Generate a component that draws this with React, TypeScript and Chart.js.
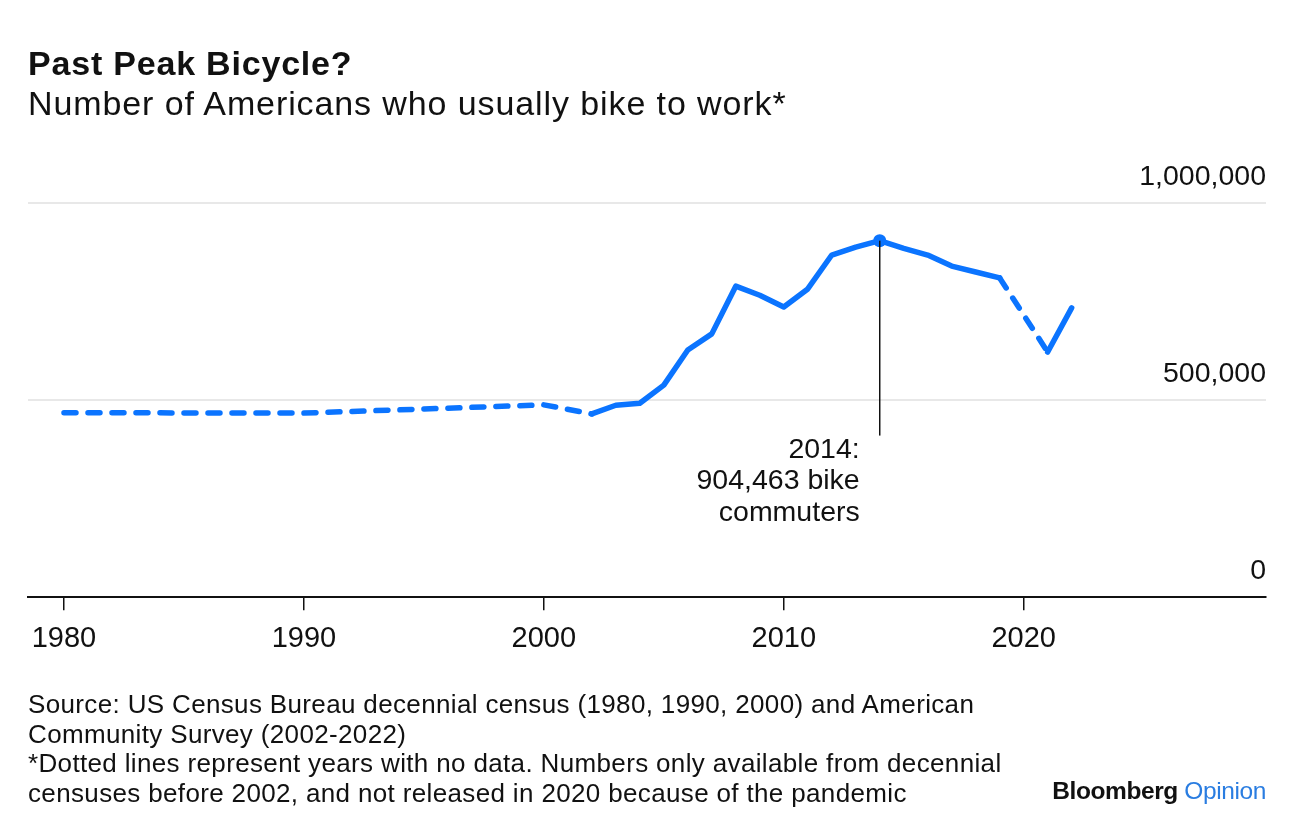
import React, { useEffect, useRef } from "react";
import { Chart, registerables } from "chart.js";

Chart.register(...registerables);

const years = [1980, 1990, 2000, 2002, 2003, 2004, 2005, 2006, 2007, 2008, 2009, 2010, 2011, 2012, 2013, 2014, 2015, 2016, 2017, 2018, 2019, 2021, 2022];
const commuters = [468000, 467000, 488000, 465000, 487000, 492000, 538000, 627000, 668000, 789000, 766000, 736000, 782000, 868000, 888000, 904463, 885000, 868000, 840000, 825000, 810000, 622000, 734000];
const xTicks = [1980, 1990, 2000, 2010, 2020];
const yTicks = [0, 500000, 1000000];
const peakYear = 2014;
const annotationLines = ["2014:", "904,463 bike", "commuters"];
const annotationEndValue = 410000;

const FONT = '"Liberation Sans", Arial, sans-serif';
const BLUE = "#0b74ff";

const annotationPlugin = {
  id: "peakAnnotation",
  afterDatasetsDraw(chart: any) {
    const { ctx, scales } = chart;
    const idx = years.indexOf(peakYear);
    const px = scales.x.getPixelForValue(peakYear);
    const py = scales.y.getPixelForValue(commuters[idx]);
    const endY = scales.y.getPixelForValue(annotationEndValue);
    ctx.save();
    ctx.strokeStyle = "#111";
    ctx.lineWidth = 1.5;
    ctx.beginPath();
    ctx.moveTo(px, py);
    ctx.lineTo(px, endY);
    ctx.stroke();
    ctx.fillStyle = "#111";
    ctx.font = `28.5px ${FONT}`;
    ctx.textAlign = "right";
    ctx.textBaseline = "alphabetic";
    annotationLines.forEach((t, i) => {
      ctx.fillText(t, px - 20, endY + 22 + i * 31.5);
    });
    ctx.restore();
  },
};

export default function App() {
  const ref = useRef<HTMLCanvasElement>(null);
  useEffect(() => {
    if (!ref.current) return;
    const chart = new Chart(ref.current, {
      type: "line",
      data: {
        datasets: [
          {
            data: years.map((y, i) => ({ x: y, y: commuters[i] })),
            borderColor: BLUE,
            backgroundColor: BLUE,
            borderWidth: 5.5,
            borderCapStyle: "round",
            borderJoinStyle: "round",
            tension: 0,
            pointRadius: (c: any) => (c.raw && c.raw.x === peakYear ? 6.5 : 0),
            pointHoverRadius: 0,
            pointBorderWidth: 0,
            segment: {
              borderDash: (c: any) => (c.p1.parsed.x - c.p0.parsed.x > 1 ? [12, 12] : undefined),
            },
          },
        ],
      },
      options: {
        animation: false,
        responsive: false,
        events: [],
        layout: { padding: { left: 28, right: 30, top: 203, bottom: 167 } },
        plugins: { legend: { display: false }, tooltip: { enabled: false }, title: { display: false } },
        scales: {
          x: {
            type: "linear",
            min: 1978.5,
            max: 2030.1,
            afterBuildTicks: (s: any) => {
              s.ticks = xTicks.map((v) => ({ value: v }));
            },
            grid: { display: true, drawOnChartArea: false, drawTicks: true, tickLength: 13, color: "#111", lineWidth: 1.5 },
            border: { display: true, color: "#111", width: 2 },
            ticks: {
              padding: 11,
              color: "#111",
              font: { family: FONT, size: 29 },
              maxRotation: 0,
              callback: (v: any) => String(v),
            },
          },
          y: {
            position: "right",
            min: 0,
            max: 1000000,
            afterBuildTicks: (s: any) => {
              s.ticks = yTicks.map((v) => ({ value: v }));
            },
            grid: {
              drawTicks: false,
              color: (c: any) => (c.tick && c.tick.value === 0 ? "rgba(0,0,0,0)" : "#e8e8e8"),
              lineWidth: 2,
            },
            border: { display: false },
            ticks: {
              mirror: true,
              padding: 0,
              labelOffset: -26,
              color: "#111",
              font: { family: FONT, size: 28.5 },
              callback: (v: any) => Number(v).toLocaleString("en-US"),
            },
          },
        },
      },
      plugins: [annotationPlugin],
    });
    return () => chart.destroy();
  }, []);

  const textBase: React.CSSProperties = { position: "absolute", whiteSpace: "nowrap", fontFamily: FONT, color: "#111" };

  return (
    <div style={{ position: "absolute", left: 0, top: 0, width: 1296, height: 834, background: "#fff", overflow: "hidden" }}>
      <canvas ref={ref} width={1296} height={834} style={{ position: "absolute", left: 0, top: 0, width: 1296, height: 834 }} />
      <div style={{ ...textBase, left: 28, top: 46, fontSize: 34, lineHeight: "34px", fontWeight: 700, letterSpacing: 0.8 }}>
        Past Peak Bicycle?
      </div>
      <div style={{ ...textBase, left: 28, top: 86, fontSize: 34, lineHeight: "34px", letterSpacing: 0.9 }}>
        Number of Americans who usually bike to work*
      </div>
      <div style={{ ...textBase, left: 28, top: 690, fontSize: 26, lineHeight: "29.5px", letterSpacing: 0.35 }}>
        <div>Source: US Census Bureau decennial census (1980, 1990, 2000) and American</div>
        <div>Community Survey (2002-2022)</div>
        <div>*Dotted lines represent years with no data. Numbers only available from decennial</div>
        <div>censuses before 2002, and not released in 2020 because of the pandemic</div>
      </div>
      <div style={{ ...textBase, right: 30, top: 777, fontSize: 24.5, lineHeight: "28px", fontWeight: 700, letterSpacing: -0.4 }}>
        Bloomberg <span style={{ color: "#2a7de1", fontWeight: 400 }}>Opinion</span>
      </div>
    </div>
  );
}
